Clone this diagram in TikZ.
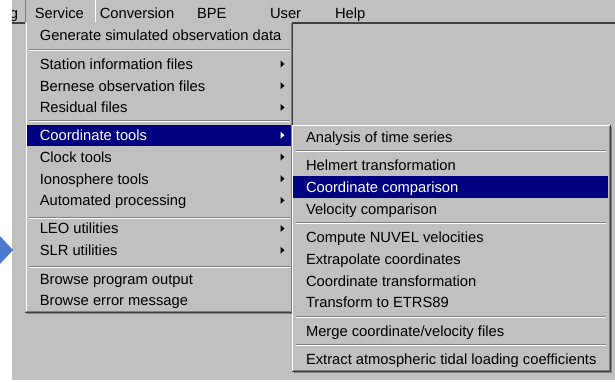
\documentclass[tikz,border=0pt]{standalone}
\usepackage{fontspec}
\setmainfont{Liberation Sans}
\usepackage{xcolor}

\definecolor{wingray}{HTML}{C0C0C0}
\definecolor{winnavy}{HTML}{000080}
\definecolor{windark}{HTML}{404040}
\definecolor{winshade}{HTML}{808080}
\definecolor{pointerblue}{HTML}{4A7BD0}

\begin{document}
\begin{tikzpicture}[x=0.75pt,y=-0.75pt,line width=0.75pt,
  every node/.style={font=\fontsize{11.05}{13}\selectfont},
  menutext/.style={anchor=west,inner sep=0pt,text height=9pt,text depth=1pt},
  picked/.style={menutext,text=white}
]

\tikzset{etchline/.style={winshade},etchlight/.style={white}}

\useasboundingbox (0,0) rectangle (615,382);
\fill[white] (0,0) rectangle (615,382);
\fill[wingray] (12,0) rectangle (615,380);

% pointer at the left edge
\fill[pointerblue] (0,236) -- (13,250) -- (0,264) -- cycle;

% menu bar
\begin{scope}
  \clip (12,0) rectangle (615,382);
  \node[menutext,anchor=east] (bar0) at (18.6,12.8) {g};
\end{scope}
\foreach \x/\txt [count=\i] in {34.3/Service,99.3/Conversion,196.5/BPE,269.5/User,334.5/Help}
  \node[menutext] (bar\i) at (\x,12.8) {\txt};
\draw[windark,line width=1.2pt] (12,22.7) -- (615,22.7);
\draw[winshade] (25.5,0) -- (25.5,22);
\draw[white] (95.5,0) -- (95.5,22);

% main drop-down
\fill[wingray] (25,22) rectangle (293,314);
\draw[white] (26.5,23) -- (26.5,311);
\draw[winshade] (291.5,23) -- (291.5,311.5) -- (26,311.5);
\draw[windark] (292.5,22) -- (292.5,312.5) -- (25,312.5);
\draw[winshade] (27,313.5) -- (293,313.5);
\fill[winnavy] (27,125) rectangle (291,146);
\foreach \y in {49.3,120.7,217.7,266.7}{
  \draw[etchline] (29,\y) -- (290,\y);
  \draw[etchlight] (29,\y+1) -- (290,\y+1);
}
\foreach \y/\txt/\sty/\tip [count=\i] in {
  35.5/Generate simulated observation data/menutext/none,
  64/Station information files/menutext/black,
  85.7/Bernese observation files/menutext/black,
  107.4/Residual files/menutext/black,
  135.2/Coordinate tools/picked/white,
  157/Clock tools/menutext/black,
  178.7/Ionosphere tools/menutext/black,
  200.4/Automated processing/menutext/black,
  228.5/LEO utilities/menutext/black,
  250.2/SLR utilities/menutext/black,
  278.8/Browse program output/menutext/none,
  300.5/Browse error message/menutext/none}{
  \node[\sty] (m\i) at (39.3,\y) {\txt};
  \path[fill=\tip] (280.5,\y-3.5) -- (284.5,\y) -- (280.5,\y+3.5) -- cycle;
}

% coordinate tools sub-menu
\fill[wingray] (292,125) rectangle (612,373);
\draw[white] (292.5,371) -- (292.5,125.5) -- (610,125.5);
\draw[winshade] (609.5,126) -- (609.5,370.5) -- (293,370.5);
\draw[windark] (610.5,125) -- (610.5,371.5) -- (292,371.5);
\draw[winshade] (611.5,127) -- (611.5,372.5) -- (294,372.5);
\fill[winnavy] (293,176) rectangle (608,198);
\foreach \y in {150.7,222.7,316,344}{
  \draw[etchline] (296,\y) -- (606,\y);
  \draw[etchlight] (296,\y+1) -- (606,\y+1);
}
\foreach \y/\txt/\sty [count=\i] in {
  137.2/Analysis of time series/menutext,
  165/Helmert transformation/menutext,
  187.2/Coordinate comparison/picked,
  209.5/Velocity comparison/menutext,
  237.2/Compute NUVEL velocities/menutext,
  259/Extrapolate coordinates/menutext,
  280.8/Coordinate transformation/menutext,
  302.5/Transform to ETRS89/menutext,
  330.8/Merge coordinate\slash velocity files/menutext,
  359.2/Extract atmospheric tidal loading coefficients/menutext}{
  \node[\sty] (s\i) at (305.5,\y) {\txt};
}

\end{tikzpicture}
\end{document}
